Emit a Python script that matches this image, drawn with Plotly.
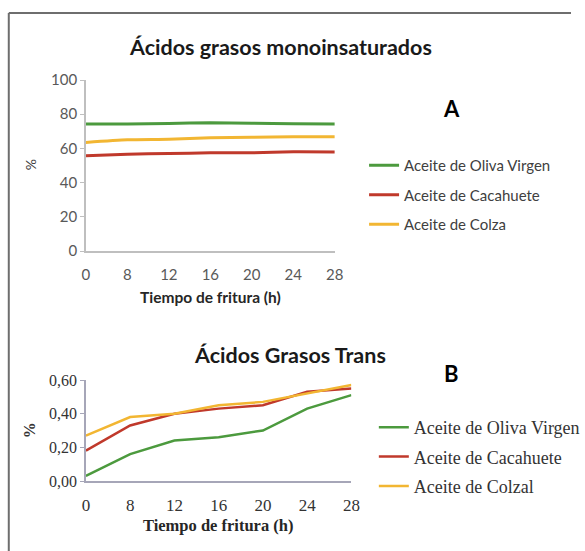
import plotly.graph_objects as go

# Frying time categories (hours)
horas = ["0", "8", "12", "16", "20", "24", "28"]

# Panel A: monounsaturated fatty acids (%)
mono_oliva = [74.3, 74.2, 74.6, 75.0, 74.7, 74.4, 74.3]
mono_cacahuete = [55.7, 56.6, 57.0, 57.4, 57.4, 58.0, 57.9]
mono_colza = [63.5, 65.0, 65.4, 66.3, 66.5, 66.8, 66.8]

# Panel B: trans fatty acids (%)
trans_oliva = [0.03, 0.16, 0.24, 0.26, 0.30, 0.43, 0.51]
trans_cacahuete = [0.18, 0.33, 0.40, 0.43, 0.45, 0.53, 0.55]
trans_colza = [0.27, 0.38, 0.40, 0.45, 0.47, 0.52, 0.57]

nombres_a = ["Aceite de Oliva Virgen", "Aceite de Cacahuete", "Aceite de Colza"]
nombres_b = ["Aceite de Oliva Virgen", "Aceite de Cacahuete", "Aceite de Colzal"]
colores = ["#4C9A3E", "#C0392B", "#F2B632"]

W, H = 585, 551


def px(x):
    return x / W


def py(y):
    return 1 - y / H


SANS = "Lato, 'Open Sans', sans-serif"
SERIF = "'Liberation Serif', 'DejaVu Serif', serif"

fig = go.Figure()

for nombre, vals, col, i in zip(nombres_a, [mono_oliva, mono_cacahuete, mono_colza], colores, range(3)):
    fig.add_trace(go.Scatter(
        x=horas, y=vals, mode="lines", name=nombre,
        line=dict(color=col, width=3, shape="spline", smoothing=0.6),
        xaxis="x", yaxis="y", legend="legend", legendgroup=f"a{i}",
    ))

for nombre, vals, col, i in zip(nombres_b, [trans_oliva, trans_cacahuete, trans_colza], colores, range(3)):
    fig.add_trace(go.Scatter(
        x=horas, y=vals, mode="lines", name=nombre,
        line=dict(color=col, width=2.5),
        xaxis="x2", yaxis="y2", legend="legend2", legendgroup=f"b{i}",
    ))

axis_common = dict(showgrid=False, zeroline=False, automargin=False, fixedrange=True)

fig.update_layout(
    width=W, height=H,
    margin=dict(l=0, r=0, t=0, b=0),
    paper_bgcolor="white", plot_bgcolor="white",
    separators=",.",
    xaxis=dict(
        domain=[px(88), px(343)], anchor="y", type="category", range=[0, 6],
        showline=True, linecolor="#BFBFBF", linewidth=1.5, ticks="",
        tickfont=dict(family=SANS, size=15, color="#595959"), ticklabelstandoff=9,
        **axis_common,
    ),
    yaxis=dict(
        domain=[py(251), py(80)], anchor="x", range=[0, 100], tickvals=[0, 20, 40, 60, 80, 100],
        showline=True, linecolor="#BFBFBF", linewidth=1.5, ticks="outside", ticklen=4,
        tickcolor="#BFBFBF", tickfont=dict(family=SANS, size=15, color="#595959"),
        **axis_common,
    ),
    xaxis2=dict(
        domain=[px(88), px(360)], anchor="y2", type="category", range=[0, 6],
        showline=True, linecolor="#A6A6B8", linewidth=1.5, ticks="",
        tickfont=dict(family=SERIF, size=17, color="#333333"), ticklabelstandoff=8,
        **axis_common,
    ),
    yaxis2=dict(
        domain=[py(481), py(380)], anchor="x2", range=[0, 0.6], tickvals=[0, 0.2, 0.4, 0.6],
        tickformat=".2f",
        showline=True, linecolor="#A6A6B8", linewidth=1.5, ticks="outside", ticklen=4,
        tickcolor="#A6A6B8", tickfont=dict(family=SERIF, size=16, color="#333333"),
        **axis_common,
    ),
    legend=dict(
        x=px(373), y=py(149), xanchor="left", yanchor="top",
        font=dict(family=SANS, size=15, color="#404040"),
        tracegroupgap=7, bgcolor="rgba(0,0,0,0)", itemwidth=30,
    ),
    legend2=dict(
        x=px(383), y=py(409), xanchor="left", yanchor="top",
        font=dict(family=SERIF, size=18, color="#333333"),
        tracegroupgap=3, bgcolor="rgba(0,0,0,0)", itemwidth=30,
    ),
    showlegend=True,
)

# Outer frame: top and left edges
fig.add_shape(type="line", xref="paper", yref="paper", x0=px(9), x1=1, y0=py(13), y1=py(13),
              line=dict(color="#6E6E6E", width=2))
fig.add_shape(type="line", xref="paper", yref="paper", x0=px(9), x1=px(9), y0=py(13), y1=0,
              line=dict(color="#6E6E6E", width=2))

anns = [
    dict(text="<b>Ácidos grasos monoinsaturados</b>", x=px(287), y=py(47),
         font=dict(family=SANS, size=21.5, color="#1A1A1A")),
    dict(text="<b>A</b>", x=px(463), y=py(108), font=dict(family=SANS, size=22, color="#000000")),
    dict(text="%", x=px(31), y=py(165), textangle=-90, font=dict(family=SANS, size=14, color="#404040")),
    dict(text="<b>Tiempo de fritura (h)</b>", x=px(216), y=py(297),
         font=dict(family=SANS, size=15.5, color="#262626")),
    dict(text="<b>Ácidos Grasos Trans</b>", x=px(297), y=py(355),
         font=dict(family=SANS, size=21.5, color="#1A1A1A")),
    dict(text="<b>B</b>", x=px(463), y=py(373), font=dict(family=SANS, size=22, color="#000000")),
    dict(text="<b>%</b>", x=px(30), y=py(430), textangle=-90, font=dict(family=SERIF, size=16, color="#333333")),
    dict(text="<b>Tiempo de fritura (h)</b>", x=px(223), y=py(525),
         font=dict(family=SERIF, size=16.5, color="#262626")),
]
for a in anns:
    fig.add_annotation(xref="paper", yref="paper", showarrow=False, xanchor="center", yanchor="middle", **a)

fig.write_html("out.html", config={"displayModeBar": False})
